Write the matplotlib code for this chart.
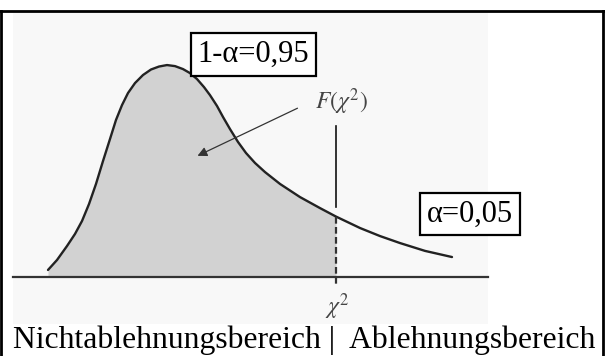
import matplotlib
matplotlib.use("Agg")
import matplotlib.pyplot as plt
from matplotlib.lines import Line2D
from matplotlib.patches import Rectangle

plt.rcParams['font.family'] = ['Liberation Serif', 'DejaVu Serif']
plt.rcParams['mathtext.fontset'] = 'stix'

# density curve (x in chi^2 units, y = density)
curve_x = [3.5, 4.4, 5.4, 6.2, 6.9, 7.6, 8.3, 9.0, 9.7, 10.3, 10.9, 11.5, 12.2,
           13.0, 13.8, 14.6, 15.4, 16.2, 17.0, 17.7, 18.4, 19.1, 19.7, 20.4,
           21.0, 21.7, 22.5, 23.3, 24.2, 25.2, 26.7, 28.7, 30.7, 32.3, 34.7,
           36.7, 38.7, 41.2, 43.9]
curve_y = [0.0033, 0.0080, 0.0146, 0.0203, 0.0264, 0.0344, 0.0439, 0.0547,
           0.0651, 0.0741, 0.0811, 0.0868, 0.0915, 0.0953, 0.0979, 0.0993,
           0.1000, 0.0995, 0.0981, 0.0962, 0.0934, 0.0896, 0.0858, 0.0807,
           0.0755, 0.0698, 0.0637, 0.0585, 0.0538, 0.0495, 0.0439, 0.0377,
           0.0325, 0.0285, 0.0231, 0.0193, 0.0160, 0.0123, 0.0094]

chi_crit = 32.3
axis_end = 47.5
label_1ma = "1-α=0,95"
label_a = "α=0,05"
label_f = r"$F(\chi^2)$"
label_chi = r"$\chi^2$"
label_bottom = "Nichtablehnungsbereich |  Ablehnungsbereich"

fig = plt.figure(figsize=(6.05, 3.56), dpi=100)
ax = fig.add_axes([0, 0, 1, 1])
ax.set_xlim(-1.3, 59.2)
ax.set_ylim(-0.0373, 0.1307)
ax.axis('off')

# faint scan background
ax.add_patch(Rectangle((0, -0.022), 47.5, 0.148, color='#f8f8f8', lw=0, zorder=0))

# shaded area up to the critical value
shade_x = [x for x in curve_x if x <= chi_crit]
shade_y = curve_y[:len(shade_x)]
ax.fill_between(shade_x, shade_y, 0, color='#d2d2d2', lw=0, zorder=1)

ax.plot(curve_x, curve_y, color='#222222', lw=1.7, zorder=3,
        solid_capstyle='round', solid_joinstyle='round')
ax.plot([0, axis_end], [0, 0], color='#333333', lw=1.6, zorder=3)

# critical value line: solid above the curve, dashed below
ax.plot([chi_crit, chi_crit], [0.0712, 0.0330], color='#111111', lw=1.2, zorder=3)
ax.plot([chi_crit, chi_crit], [0.0283, -0.0038], color='#333333', lw=1.6,
        ls=(0, (3, 1.5)), zorder=3)

ax.annotate('', xy=(18.2, 0.0566), xytext=(28.7, 0.0802),
            arrowprops=dict(arrowstyle='-|>', color='#333333', lw=0.9,
                            mutation_scale=14), zorder=4)
ax.text(32.8, 0.0825, label_f, fontsize=17, color='#444444', ha='center', va='center')
ax.text(32.4, -0.0140, label_chi, fontsize=17, color='#444444', ha='center', va='center')

box = dict(boxstyle='square,pad=0.22', fc='white', ec='black', lw=1.6)
ax.text(24.05, 0.1050, label_1ma, fontsize=22, ha='center', va='center', bbox=box, zorder=5)
ax.text(45.7, 0.0297, label_a, fontsize=22, ha='center', va='center', bbox=box, zorder=5)

ax.text(0, -0.0335, label_bottom, fontsize=22.8, ha='left', va='baseline')

# outer frame
fy = 1 - 11 / 356
fig.add_artist(Line2D([0, 1], [fy, fy], color='black', lw=2, transform=fig.transFigure))
fig.add_artist(Line2D([0.002, 0.002], [0, fy], color='black', lw=2, transform=fig.transFigure))
fig.add_artist(Line2D([0.997, 0.997], [0, fy], color='black', lw=2, transform=fig.transFigure))

fig.savefig('out.png', dpi=100)
